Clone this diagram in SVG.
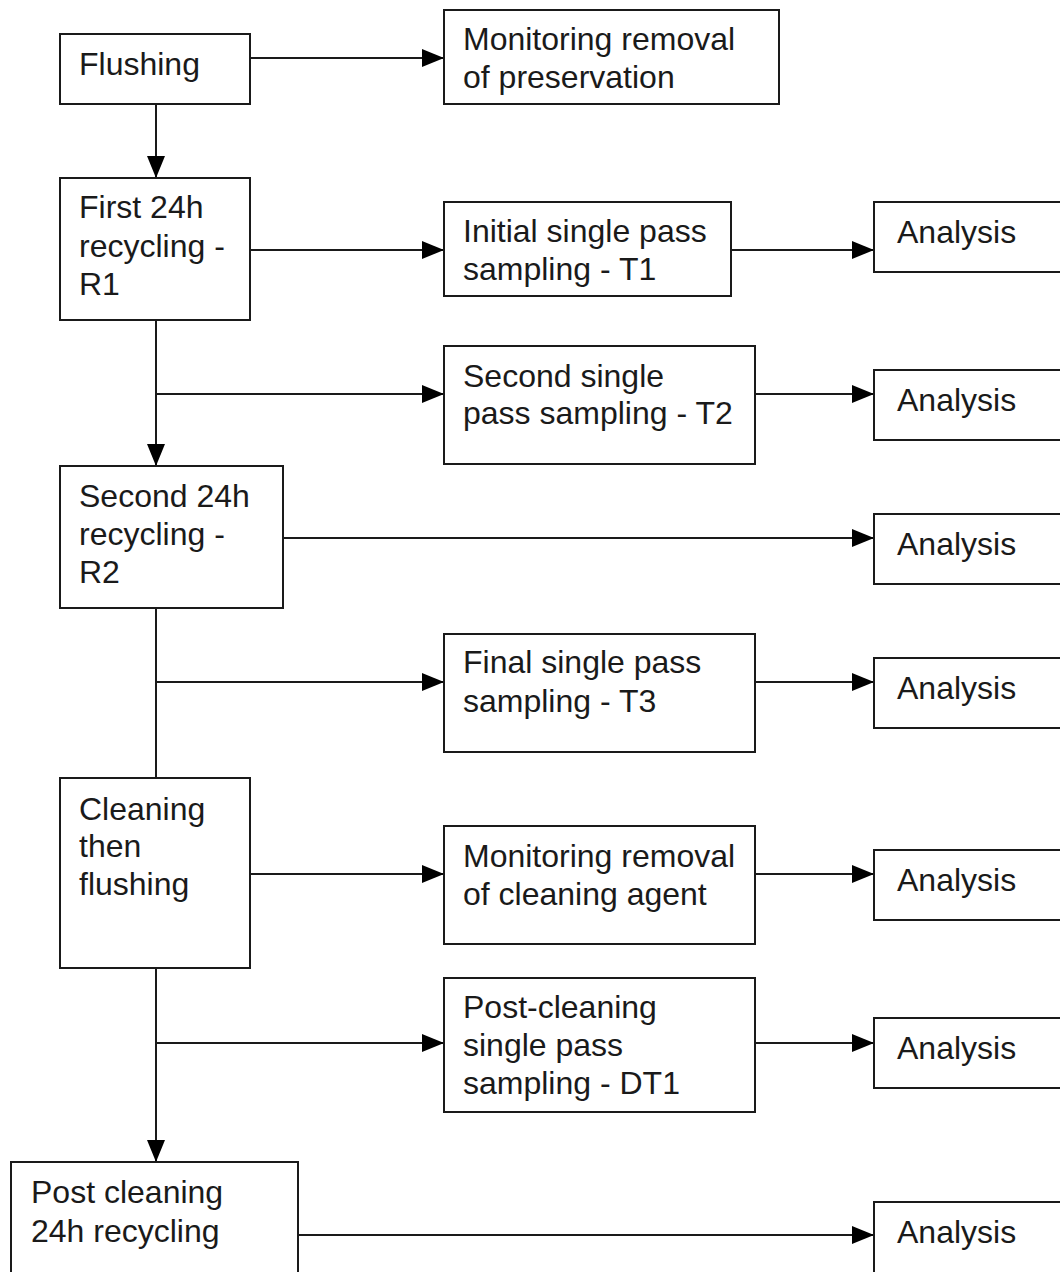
<svg xmlns="http://www.w3.org/2000/svg" width="1060" height="1272" viewBox="0 0 1060 1272">
<defs>
<style>
.box{fill:#fff;stroke:#1a1a1a;stroke-width:2}
.lbl{font-family:"Liberation Sans",Arial,sans-serif;font-size:32px;fill:#1a1a1a}
.ln{fill:none;stroke:#1a1a1a;stroke-width:2}
.arr{marker-end:url(#ah)}
</style>
<marker id="ah" markerUnits="userSpaceOnUse" markerWidth="22" markerHeight="20" refX="22" refY="10" orient="auto">
<path d="M0,1 L22,10 L0,19 z" fill="#000"/>
</marker>
</defs>
<rect width="1060" height="1272" fill="#fff"/>
<g id="connectors">
<line class="ln arr" x1="250" y1="58" x2="444" y2="58"/>
<line class="ln arr" x1="156" y1="104" x2="156" y2="178"/>
<line class="ln arr" x1="250" y1="250" x2="444" y2="250"/>
<line class="ln arr" x1="731" y1="250" x2="874" y2="250"/>
<line class="ln arr" x1="156" y1="320" x2="156" y2="466"/>
<line class="ln arr" x1="156" y1="394" x2="444" y2="394"/>
<line class="ln arr" x1="755" y1="394" x2="874" y2="394"/>
<line class="ln arr" x1="283" y1="538" x2="874" y2="538"/>
<line class="ln" x1="156" y1="608" x2="156" y2="778"/>
<line class="ln arr" x1="156" y1="682" x2="444" y2="682"/>
<line class="ln arr" x1="755" y1="682" x2="874" y2="682"/>
<line class="ln arr" x1="250" y1="874" x2="444" y2="874"/>
<line class="ln arr" x1="755" y1="874" x2="874" y2="874"/>
<line class="ln arr" x1="156" y1="968" x2="156" y2="1162"/>
<line class="ln arr" x1="156" y1="1043" x2="444" y2="1043"/>
<line class="ln arr" x1="755" y1="1043" x2="874" y2="1043"/>
<line class="ln arr" x1="298" y1="1235" x2="874" y2="1235"/>
</g>
<g id="flushing">
<rect class="box" x="60" y="34" width="190" height="70"/>
<text class="lbl" x="79" y="75">Flushing</text>
</g>
<g id="mon-preservation">
<rect class="box" x="444" y="10" width="335" height="94"/>
<text class="lbl" x="463" y="50">Monitoring removal</text>
<text class="lbl" x="463" y="88">of preservation</text>
</g>
<g id="r1">
<rect class="box" x="60" y="178" width="190" height="142"/>
<text class="lbl" x="79" y="218">First 24h</text>
<text class="lbl" x="79" y="257">recycling -</text>
<text class="lbl" x="79" y="295">R1</text>
</g>
<g id="t1">
<rect class="box" x="444" y="202" width="287" height="94"/>
<text class="lbl" x="463" y="242">Initial single pass</text>
<text class="lbl" x="463" y="280">sampling - T1</text>
</g>
<g id="analysis-t1">
<rect class="box" x="874" y="202" width="200" height="70"/>
<text class="lbl" x="897" y="243">Analysis</text>
</g>
<g id="t2">
<rect class="box" x="444" y="346" width="311" height="118"/>
<text class="lbl" x="463" y="387">Second single</text>
<text class="lbl" x="463" y="424">pass sampling - T2</text>
</g>
<g id="analysis-t2">
<rect class="box" x="874" y="370" width="200" height="70"/>
<text class="lbl" x="897" y="411">Analysis</text>
</g>
<g id="r2">
<rect class="box" x="60" y="466" width="223" height="142"/>
<text class="lbl" x="79" y="507">Second 24h</text>
<text class="lbl" x="79" y="545">recycling -</text>
<text class="lbl" x="79" y="583">R2</text>
</g>
<g id="analysis-r2">
<rect class="box" x="874" y="514" width="200" height="70"/>
<text class="lbl" x="897" y="555">Analysis</text>
</g>
<g id="t3">
<rect class="box" x="444" y="634" width="311" height="118"/>
<text class="lbl" x="463" y="673">Final single pass</text>
<text class="lbl" x="463" y="712">sampling - T3</text>
</g>
<g id="analysis-t3">
<rect class="box" x="874" y="658" width="200" height="70"/>
<text class="lbl" x="897" y="699">Analysis</text>
</g>
<g id="cleaning">
<rect class="box" x="60" y="778" width="190" height="190"/>
<text class="lbl" x="79" y="820">Cleaning</text>
<text class="lbl" x="79" y="857">then</text>
<text class="lbl" x="79" y="895">flushing</text>
</g>
<g id="mon-cleaning">
<rect class="box" x="444" y="826" width="311" height="118"/>
<text class="lbl" x="463" y="867">Monitoring removal</text>
<text class="lbl" x="463" y="905">of cleaning agent</text>
</g>
<g id="analysis-clean">
<rect class="box" x="874" y="850" width="200" height="70"/>
<text class="lbl" x="897" y="891">Analysis</text>
</g>
<g id="dt1">
<rect class="box" x="444" y="978" width="311" height="134"/>
<text class="lbl" x="463" y="1018">Post-cleaning</text>
<text class="lbl" x="463" y="1056">single pass</text>
<text class="lbl" x="463" y="1094">sampling - DT1</text>
</g>
<g id="analysis-dt1">
<rect class="box" x="874" y="1018" width="200" height="70"/>
<text class="lbl" x="897" y="1059">Analysis</text>
</g>
<g id="post-recycling">
<rect class="box" x="11" y="1162" width="287" height="130"/>
<text class="lbl" x="31" y="1203">Post cleaning</text>
<text class="lbl" x="31" y="1242">24h recycling</text>
</g>
<g id="analysis-post">
<rect class="box" x="874" y="1202" width="200" height="90"/>
<text class="lbl" x="897" y="1243">Analysis</text>
</g>
</svg>
